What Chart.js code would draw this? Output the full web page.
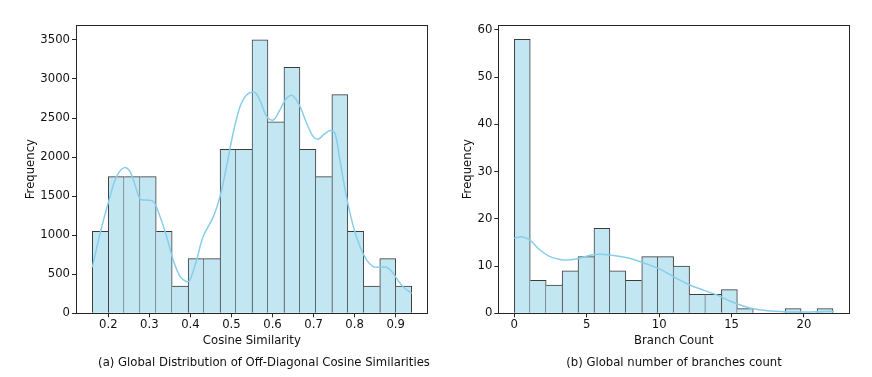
<!DOCTYPE html>
<html><head><meta charset="utf-8">
<script src="https://cdn.jsdelivr.net/npm/chart.js@4.4.1/dist/chart.umd.min.js"></script>
<style>
html,body{margin:0;padding:0;background:#fff;width:872px;height:377px;overflow:hidden;}
body{position:relative;}
canvas{position:absolute;top:0;}
.cap{position:absolute;top:353px;font:11.67px "DejaVu Sans";color:#111;text-align:center;line-height:18px;white-space:nowrap;}
</style></head><body>
<canvas id="c1" width="440" height="377" style="left:0"></canvas>
<canvas id="c2" width="432" height="377" style="left:440px"></canvas>
<div class="cap" style="left:0;width:528px">(a) Global Distribution of Off-Diagonal Cosine Similarities</div>
<div class="cap" style="left:476px;width:396px">(b) Global number of branches count</div>
<script>
// ---- Chart (a): cosine similarity histogram ----
const cosBinCenters = [0.1805,0.2194,0.2583,0.2972,0.3361,0.3750,0.4139,0.4528,0.4917,0.5306,0.5695,0.6084,0.6473,0.6862,0.7251,0.7640,0.8029,0.8418,0.8807,0.9196];
const cosCounts     = [1050,1750,1750,1750,1050,350,700,700,2100,2100,3500,2450,3150,2100,1750,2800,1050,350,700,350];
const cosKdeX = [0.161,0.180,0.200,0.220,0.239,0.253,0.269,0.278,0.293,0.310,0.326,0.342,0.358,0.375,0.391,0.399,0.415,0.431,0.456,0.472,0.488,0.504,0.521,0.537,0.556,0.569,0.586,0.602,0.618,0.634,0.649,0.667,0.683,0.699,0.711,0.724,0.740,0.752,0.764,0.780,0.797,0.813,0.829,0.845,0.861,0.878,0.894,0.902,0.918,0.939];
const cosKdeY = [589,1024,1417,1750,1865,1814,1579,1460,1451,1430,1238,982,683,469,405,427,683,982,1238,1494,1878,2305,2646,2796,2830,2731,2518,2475,2603,2753,2787,2646,2433,2262,2228,2283,2339,2305,1963,1494,1110,854,683,598,589,589,512,448,341,256];
const cosXTicks = [0.2,0.3,0.4,0.5,0.6,0.7,0.8,0.9];
const cosXTickLabels = ['0.2','0.3','0.4','0.5','0.6','0.7','0.8','0.9'];
const cosYTicks = [0,500,1000,1500,2000,2500,3000,3500];
const cosYTickLabels = ['0','500','1000','1500','2000','2500','3000','3500'];

// ---- Chart (b): branch count histogram ----
const brBinCenters = [0.55,1.65,2.75,3.85,4.95,6.05,7.15,8.25,9.35,10.45,11.55,12.65,13.75,14.85,15.95,17.05,18.15,19.25,20.35,21.45];
const brCounts     = [58,7,6,9,12,18,9,7,12,12,10,4,4,5,1,0,0,1,0,1];
const brKdeX = [0,0.5,1.08,1.77,2.46,3.15,3.73,4.42,5.23,5.92,6.61,7.53,8.45,9.37,10.29,11.2,12.13,13.05,13.97,14.89,15.8,16.7,17.66,18.58,19.5,20.4,21.1,22.08];
const brKdeY = [15.9,16.2,15.5,13.4,12.0,11.4,11.3,11.6,12.3,12.5,12.35,11.9,11.2,10.2,9.0,7.4,6.0,4.9,3.9,2.6,1.55,0.85,0.5,0.35,0.28,0.28,0.35,0.42];
const brXTicks = [0,5,10,15,20];
const brXTickLabels = ['0','5','10','15','20'];
const brYTicks = [0,10,20,30,40,50,60];
const brYTickLabels = ['0','10','20','30','40','50','60'];

const FONT = {family:'"DejaVu Sans"', size:11.67};
const TXT = '#111';
const AX = '#262626';

function edgeWidths(ctx){
  const d = ctx.dataset.data, i = ctx.dataIndex;
  const v = d[i] && d[i].y != null ? d[i].y : 0;
  const p = i > 0 && d[i-1] && d[i-1].y != null ? d[i-1].y : 0;
  const n = i < d.length-1 && d[i+1] && d[i+1].y != null ? d[i+1].y : 0;
  return {top:1, bottom:0, left: (i===0 || p < v) ? 1 : 0, right: (i===d.length-1 || n <= v) ? 1 : 0};
}

function makeChart(id, o){
  const bars = o.centers.map((c,i)=>({x:c, y: o.counts[i] === 0 ? null : o.counts[i]}));
  const kde = o.kx.map((x,i)=>({x:x, y:o.ky[i]}));
  const hidden = (pos, fit) => ({
    type:'linear', position:pos, display:true,
    grid:{display:true, drawOnChartArea:false, drawTicks:false, offset:false},
    ticks:{display:false},
    border:{display:true, color:AX, width:1},
    afterFit: fit
  });
  new Chart(document.getElementById(id), {
    type:'bar',
    data:{datasets:[
      {type:'line', data:kde, borderColor:'#87CEEB', borderWidth:1.5, pointRadius:0, tension:0.35, fill:false, order:0, xAxisID:'x', yAxisID:'y'},
      {type:'bar', data:bars, backgroundColor:'rgb(195,230,243)', borderColor:'#3c3c3c', borderWidth:edgeWidths, borderSkipped:false, barPercentage:1, categoryPercentage:1, order:1, xAxisID:'x', yAxisID:'y'}
    ]},
    options:{
      responsive:false, animation:false, events:[],
      layout:{padding:o.pad},
      plugins:{legend:{display:false}, tooltip:{enabled:false}, title:{display:false}},
      scales:{
        x:{type:'linear', position:'bottom', min:o.xmin, max:o.xmax, offset:false,
           grid:{display:true, offset:false, drawOnChartArea:false, drawTicks:true, tickLength:4, color:AX, tickWidth:1},
           border:{display:true, color:AX, width:1},
           ticks:{font:FONT, color:TXT, padding:1, maxRotation:0, autoSkip:false, callback:(v,i)=>o.xlabels[i]},
           title:{display:true, text:o.xtitle, font:FONT, color:TXT, padding:{top:0,bottom:4}},
           afterBuildTicks:s=>{s.ticks = o.xticks.map(v=>({value:v}));},
           afterFit:s=>{s.height = 38.7;}},
        y:{type:'linear', position:'left', min:0, max:o.ymax,
           grid:{display:true, offset:false, drawOnChartArea:false, drawTicks:true, tickLength:4, color:AX, tickWidth:1},
           border:{display:true, color:AX, width:1},
           ticks:{font:FONT, color:TXT, padding:2, autoSkip:false, callback:(v,i)=>o.ylabels[i]},
           title:{display:true, text:'Frequency', font:FONT, color:TXT, padding:{top:4,bottom:0}},
           afterBuildTicks:s=>{s.ticks = o.yticks.map(v=>({value:v}));},
           afterFit:s=>{s.width = o.yw;}},
        x2: hidden('top', s=>{s.height = 0;}),
        y2: hidden('right', s=>{s.width = 0;})
      }
    }
  });
}

makeChart('c1', {centers:cosBinCenters, counts:cosCounts, kx:cosKdeX, ky:cosKdeY,
  xmin:0.1213, xmax:0.978, ymax:3691, xticks:cosXTicks, xlabels:cosXTickLabels, yticks:cosYTicks, ylabels:cosYTickLabels,
  xtitle:'Cosine Similarity', yw:56, pad:{left:20, top:25, right:12.3, bottom:25}});
makeChart('c2', {centers:brBinCenters, counts:brCounts, kx:brKdeX, ky:brKdeY,
  xmin:-1.105, xmax:23.13, ymax:61.05, xticks:brXTicks, xlabels:brXTickLabels, yticks:brYTicks, ylabels:brYTickLabels,
  xtitle:'Branch Count', yw:41.3, pad:{left:17, top:25, right:22.7, bottom:25}});
</script>
</body></html>
